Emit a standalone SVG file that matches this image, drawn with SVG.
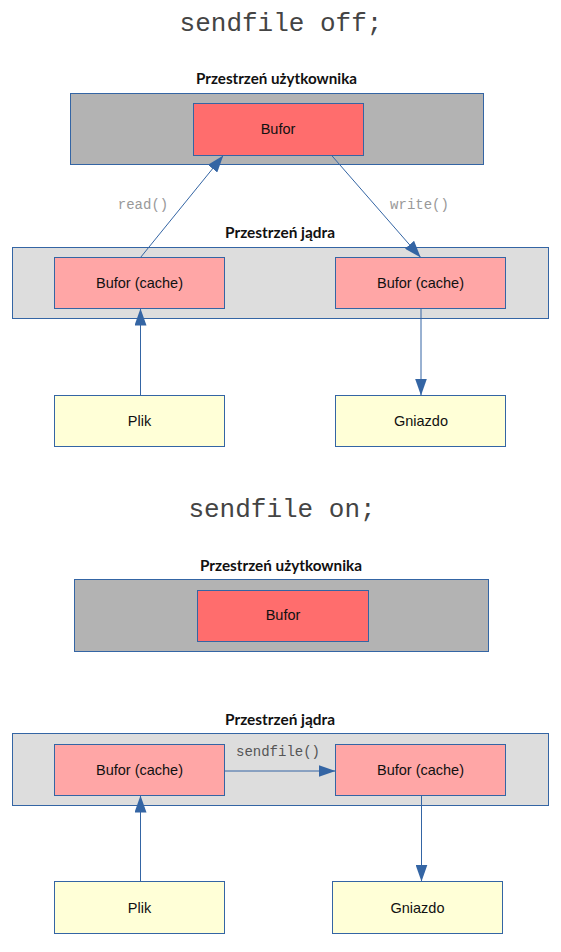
<svg xmlns="http://www.w3.org/2000/svg" width="561" height="952" viewBox="0 0 561 952">
<defs>
<style>
.title{font-family:"Liberation Mono","Courier New",monospace;font-size:26px;fill:#444;text-anchor:middle}
.head{font-family:Lato,"Liberation Sans",sans-serif;font-weight:bold;font-size:14.5px;fill:#111;text-anchor:middle}
.lbl{font-family:"Liberation Sans",Arial,sans-serif;font-size:14.5px;fill:#111;text-anchor:middle}
.fn{font-family:"Liberation Mono","Courier New",monospace;font-size:14px;text-anchor:middle}
.user{fill:#b3b3b3;stroke:#3465a4;stroke-width:1}
.kern{fill:#dddddd;stroke:#3465a4;stroke-width:1}
.buf{fill:#ff6d6d;stroke:#3465a4;stroke-width:1}
.cache{fill:#ffa6a6;stroke:#3465a4;stroke-width:1}
.io{fill:#ffffd7;stroke:#3465a4;stroke-width:1}
.conn{stroke:#3465a4;stroke-width:1;fill:none;marker-end:url(#ah)}
</style>
<marker id="ah" markerUnits="userSpaceOnUse" markerWidth="18" markerHeight="12" refX="17" refY="6" orient="auto">
<path d="M0,0 L17,6 L0,12 z" fill="#3465a4"/>
</marker>
</defs>
<rect width="561" height="952" fill="#ffffff"/>

<!-- Section 1: sendfile off -->
<text class="title" x="281" y="31">sendfile off;</text>

<g id="user1">
<text class="head" x="276.5" y="84" textLength="161" lengthAdjust="spacingAndGlyphs">Przestrzeń użytkownika</text>
<rect class="user" x="70.5" y="93.5" width="413" height="71"/>
</g>
<g id="bufor1">
<rect class="buf" x="193.5" y="103.5" width="170" height="52"/>
<text class="lbl" x="278" y="134">Bufor</text>
</g>
<g id="kernel1">
<text class="head" x="280" y="238" textLength="110" lengthAdjust="spacingAndGlyphs">Przestrzeń jądra</text>
<rect class="kern" x="12.5" y="247.5" width="536" height="71"/>
</g>
<g id="cacheL1">
<rect class="cache" x="54.5" y="257.5" width="170" height="51"/>
<text class="lbl" x="139.5" y="288">Bufor (cache)</text>
</g>
<g id="cacheR1">
<rect class="cache" x="335.5" y="257.5" width="170" height="51"/>
<text class="lbl" x="420.5" y="288">Bufor (cache)</text>
</g>
<g id="plik1">
<rect class="io" x="54.5" y="395.5" width="170" height="51"/>
<text class="lbl" x="139.5" y="425.5">Plik</text>
</g>
<g id="gniazdo1">
<rect class="io" x="335.5" y="395.5" width="170" height="51"/>
<text class="lbl" x="421" y="425.5">Gniazdo</text>
</g>

<!-- Section 2: sendfile on -->
<text class="title" x="282" y="517">sendfile on;</text>

<g id="user2">
<text class="head" x="281" y="571" textLength="162" lengthAdjust="spacingAndGlyphs">Przestrzeń użytkownika</text>
<rect class="user" x="74.5" y="579.5" width="414" height="72"/>
</g>
<g id="bufor2">
<rect class="buf" x="197.5" y="590.5" width="171" height="51"/>
<text class="lbl" x="283" y="620">Bufor</text>
</g>
<g id="kernel2">
<text class="head" x="280" y="725" textLength="110" lengthAdjust="spacingAndGlyphs">Przestrzeń jądra</text>
<rect class="kern" x="12.5" y="733.5" width="536" height="72"/>
</g>
<g id="cacheL2">
<rect class="cache" x="54.5" y="744.5" width="170" height="51"/>
<text class="lbl" x="139.5" y="775">Bufor (cache)</text>
</g>
<g id="cacheR2">
<rect class="cache" x="335.5" y="744.5" width="170" height="51"/>
<text class="lbl" x="420.5" y="775">Bufor (cache)</text>
</g>
<g id="plik2">
<rect class="io" x="54.5" y="881.5" width="170" height="52"/>
<text class="lbl" x="139.5" y="912.5">Plik</text>
</g>
<g id="gniazdo2">
<rect class="io" x="332.5" y="881.5" width="170" height="52"/>
<text class="lbl" x="417.5" y="912.5">Gniazdo</text>
</g>

<g id="connectors">
<line class="conn" x1="140.5" y1="257.5" x2="223.3" y2="155.5"/>
<text class="fn" x="143" y="209" fill="#999999">read()</text>
<line class="conn" x1="331.7" y1="155.5" x2="420.7" y2="257.5"/>
<text class="fn" x="419.5" y="209" fill="#999999">write()</text>
<line class="conn" x1="140.5" y1="395.5" x2="140.5" y2="308.5"/>
<line class="conn" x1="421" y1="308.5" x2="421" y2="395.5"/>

<line class="conn" x1="224.5" y1="771" x2="335.5" y2="771"/>
<text class="fn" x="278" y="756" fill="#555555">sendfile()</text>
<line class="conn" x1="140.5" y1="881.5" x2="140.5" y2="795.5"/>
<line class="conn" x1="421.5" y1="795.5" x2="421.5" y2="881.5"/>
</g>
</svg>
